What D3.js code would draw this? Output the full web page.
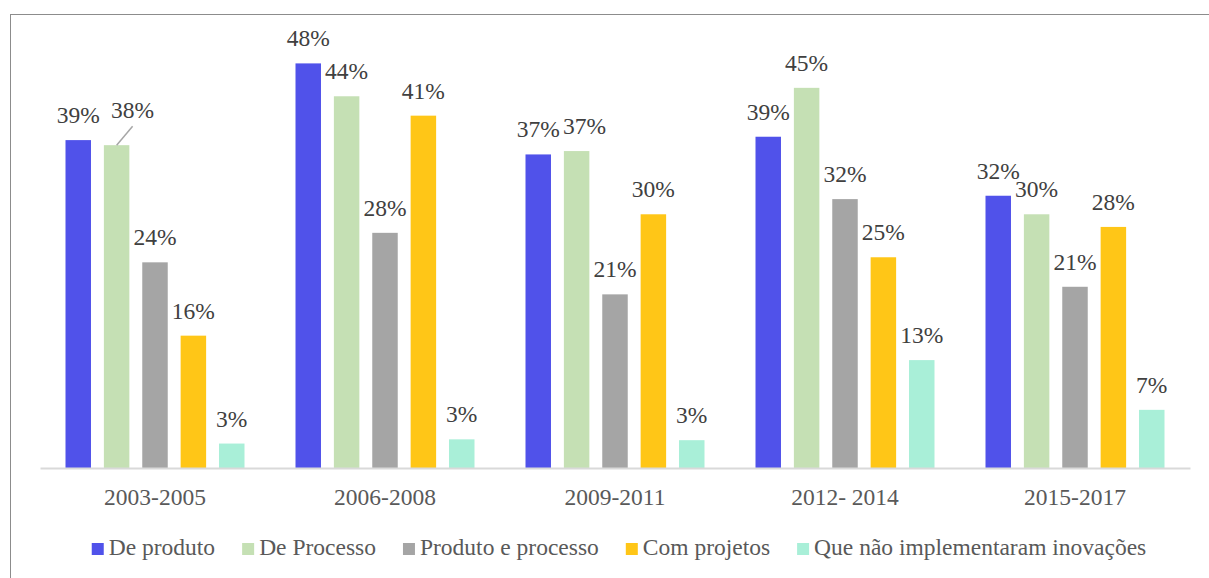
<!DOCTYPE html>
<html>
<head>
<meta charset="utf-8">
<script src="https://cdn.jsdelivr.net/npm/d3@7/dist/d3.min.js"></script>
<style>
  body { margin: 0; background: #fff; }
  text { font-family: 'Liberation Serif', 'Times New Roman', serif; }
</style>
</head>
<body>
<script>
var periods = ['2003-2005', '2006-2008', '2009-2011', '2012- 2014', '2015-2017'];
var seriesNames = ['De produto', 'De Processo', 'Produto e processo', 'Com projetos', 'Que não implementaram inovações'];
var colors = ['#5052EA', '#C5E0B4', '#A5A5A5', '#FFC617', '#A9EFD8'];

// values per series, one per period (percent)
var deProduto   = [38.9, 48.0, 37.2, 39.3, 32.3];
var deProcesso  = [38.3, 44.1, 37.6, 45.1, 30.1];
var prodProc    = [24.4, 27.9, 20.6, 31.9, 21.5];
var comProjetos = [15.7, 41.8, 30.1, 25.0, 28.6];
var naoInovou   = [2.9, 3.4, 3.3, 12.8, 6.9];

// labels as printed on the chart
var lblProduto   = ['39%', '48%', '37%', '39%', '32%'];
var lblProcesso  = ['38%', '44%', '37%', '45%', '30%'];
var lblProdProc  = ['24%', '28%', '21%', '32%', '21%'];
var lblProjetos  = ['16%', '41%', '30%', '25%', '28%'];
var lblNaoInovou = ['3%', '3%', '3%', '13%', '7%'];

var values = [deProduto, deProcesso, prodProc, comProjetos, naoInovou];
var labels = [lblProduto, lblProcesso, lblProdProc, lblProjetos, lblNaoInovou];

var FS = '23.5px';
var W = 1209, H = 578;
var svg = d3.select('body').append('svg').attr('width', W).attr('height', H)
    .attr('font-family', 'Liberation Serif')
    .style('display', 'block');

// outer frame
svg.append('rect')
    .attr('x', 10.5).attr('y', 14.5)
    .attr('width', 1210).attr('height', 700)
    .style('fill', 'none').style('stroke', '#8c8c8c').style('stroke-width', 1);

var x0 = d3.scaleBand().domain(periods).range([40, 1190]).padding(0);
var x1 = d3.scaleBand().domain(d3.range(seriesNames.length))
    .range([25.5, 204.5]).paddingInner(0.336).paddingOuter(0);
var y = d3.scaleLinear().domain([0, 48]).range([468, 63.4]);

var rows = [];
periods.forEach(function(p, i) {
    values.forEach(function(s, j) {
        rows.push({ period: p, pi: i, s: j, v: s[i], label: labels[j][i] });
    });
});

var g = svg.append('g');
g.selectAll('rect.bar').data(rows).enter().append('rect')
    .attr('class', 'bar')
    .attr('x', function(d) { return x0(d.period) + x1(d.s); })
    .attr('y', function(d) { return y(d.v); })
    .attr('width', x1.bandwidth())
    .attr('height', function(d) { return y(0) - y(d.v); })
    .style('fill', function(d) { return colors[d.s]; });

// x axis line
var xAxis = d3.axisBottom(x0).tickSize(0).tickPadding(0);
var ax = svg.append('g').attr('transform', 'translate(0,468)').call(xAxis);
ax.attr('font-family', null);
ax.select('.domain').style('stroke', '#d9d9d9').style('stroke-width', 2);
ax.selectAll('text')
    .attr('y', 37).attr('dy', 0)
    .style('font-size', FS).style('fill', '#595959');

// a couple of labels were nudged in the original to avoid overlaps
function nudge(d) {
    if (d.pi === 0 && d.s === 1) return [16, -10];
    if (d.pi === 2 && d.s === 1) return [8, 0];
    return [0, 0];
}

g.selectAll('text.lbl').data(rows).enter().append('text')
    .attr('class', 'lbl')
    .attr('x', function(d) { return x0(d.period) + x1(d.s) + x1.bandwidth() / 2 + nudge(d)[0]; })
    .attr('y', function(d) { return y(d.v) - 17 + nudge(d)[1]; })
    .attr('text-anchor', 'middle')
    .style('font-size', FS).style('fill', '#404040')
    .text(function(d) { return d.label; });

// leader line for the pushed-aside 38% label
var lead = rows.filter(function(d) { return d.pi === 0 && d.s === 1; })[0];
var lx = x0(lead.period) + x1(lead.s) + x1.bandwidth() / 2;
svg.append('line')
    .attr('x1', lx).attr('y1', y(lead.v))
    .attr('x2', lx + 16).attr('y2', y(lead.v) - 19)
    .style('stroke', '#a6a6a6').style('stroke-width', 1.5);

// legend
var legend = svg.append('g').attr('class', 'legend');
var items = legend.selectAll('g').data(seriesNames).enter().append('g');
items.append('rect').attr('width', 12).attr('height', 12).attr('y', -12)
    .style('fill', function(d, i) { return colors[i]; });
items.append('text').attr('x', 17).attr('y', 0)
    .style('font-size', FS).style('fill', '#595959')
    .text(function(d) { return d; });
var xs = 0, pos = [];
items.each(function() {
    pos.push(xs);
    xs += 17 + d3.select(this).select('text').node().getComputedTextLength() + 27;
});
var total = xs - 27;
var startX = 619 - total / 2;
items.attr('transform', function(d, i) { return 'translate(' + (startX + pos[i]) + ',555)'; });
</script>
</body>
</html>
